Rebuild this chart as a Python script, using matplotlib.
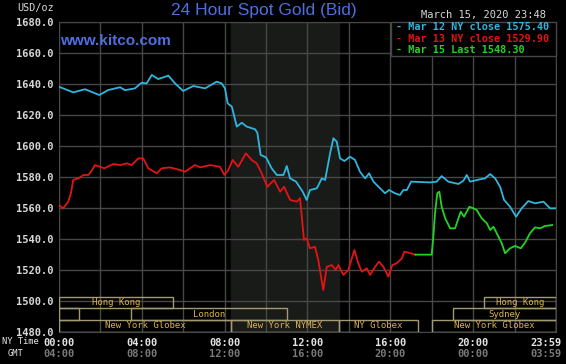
import matplotlib
matplotlib.use("Agg")
import matplotlib.pyplot as plt
from matplotlib.patches import Rectangle

# --- data (hours in NY time, USD/oz) ---
mar12_h = [0.0, 0.7, 1.27, 1.96, 2.39, 2.96, 3.2, 3.68, 4.0, 4.24, 4.49, 4.8, 5.29, 5.61,
           6.0, 6.49, 7.06, 7.62, 7.86, 8.02, 8.15, 8.35, 8.59, 8.83, 9.07, 9.47, 9.58,
           9.74, 10.0, 10.27, 10.52, 10.84, 11.0, 11.16, 11.45, 11.77, 11.96, 12.12, 12.45,
           12.69, 12.85, 13.09, 13.25, 13.41, 13.57, 13.78, 14.05, 14.29, 14.53, 14.78,
           14.97, 15.18, 15.5, 15.74, 15.93, 16.22, 16.46, 16.62, 16.79, 17.0, 17.91, 18.23,
           18.47, 18.79, 19.28, 19.52, 19.68, 19.84, 20.32, 20.56, 20.81, 21.05, 21.29,
           21.48, 21.77, 22.06, 22.33, 22.65, 22.98, 23.38, 23.7, 23.97]
mar12_v = [1638.3, 1634.6, 1636.6, 1632.9, 1636.1, 1637.9, 1636.0, 1637.2, 1640.8, 1640.4,
           1645.8, 1643.2, 1645.4, 1640.4, 1635.5, 1638.7, 1637.2, 1641.5, 1640.4, 1637.2,
           1627.5, 1625.4, 1612.5, 1615.0, 1612.5, 1610.8, 1608.6, 1594.2, 1592.7, 1585.6,
           1581.3, 1581.3, 1587.1, 1579.1, 1577.0, 1570.5, 1565.2, 1571.6, 1572.7, 1579.1,
           1578.1, 1595.3, 1605.0, 1602.8, 1592.0, 1590.3, 1593.1, 1591.0, 1583.4, 1579.1,
           1582.4, 1577.0, 1572.7, 1569.5, 1571.6, 1569.5, 1568.4, 1571.6, 1571.6, 1577.0,
           1576.5, 1577.0, 1580.6, 1577.0, 1575.5, 1577.6, 1581.3, 1577.0, 1578.5, 1579.1,
           1581.9, 1579.1, 1573.7, 1565.2, 1560.8, 1554.4, 1559.8, 1564.5, 1563.0, 1564.1,
           1559.8, 1559.8]

mar13_h = [0.0, 0.22, 0.46, 0.59, 0.7, 0.95, 1.19, 1.43, 1.56, 1.75, 1.99, 2.2, 2.63, 2.96,
           3.28, 3.52, 3.84, 4.08, 4.32, 4.73, 4.97, 5.37, 5.85, 6.09, 6.57, 6.82, 7.3, 7.78,
           7.99, 8.18, 8.39, 8.66, 9.03, 9.31, 9.55, 9.79, 10.06, 10.39, 10.68, 10.87, 11.16,
           11.48, 11.64, 11.83, 11.96, 12.12, 12.36, 12.52, 12.76, 12.93, 13.17, 13.36, 13.49,
           13.73, 13.97, 14.26, 14.45, 14.62, 14.86, 15.02, 15.26, 15.45, 15.66, 15.9, 16.09,
           16.3, 16.55, 16.67, 16.86, 17.2]
mar13_v = [1561.9, 1559.8, 1564.1, 1569.5, 1578.1, 1579.1, 1581.3, 1581.3, 1583.4, 1587.7,
           1586.6, 1585.6, 1588.4, 1587.7, 1588.8, 1587.7, 1592.0, 1592.0, 1585.6, 1582.4,
           1585.6, 1586.2, 1584.5, 1583.4, 1587.7, 1586.2, 1587.7, 1586.6, 1581.3, 1584.5,
           1591.0, 1586.6, 1595.3, 1591.0, 1588.8, 1582.4, 1573.7, 1578.1, 1570.5, 1573.7,
           1565.2, 1564.1, 1566.3, 1539.4, 1540.4, 1534.0, 1535.0, 1526.5, 1507.1, 1522.1,
           1523.2, 1520.0, 1523.2, 1516.8, 1520.0, 1532.9, 1524.3, 1518.9, 1521.1, 1516.8,
           1522.1, 1525.4, 1522.1, 1515.7, 1523.2, 1524.3, 1527.5, 1531.8, 1531.2, 1529.9]

mar15_h = [17.2, 17.99, 18.07, 18.15, 18.26, 18.36, 18.47, 18.64, 18.88, 19.12, 19.28, 19.39,
           19.55, 19.81, 20.0, 20.16, 20.4, 20.65, 20.81, 20.97, 21.21, 21.37, 21.53, 21.77,
           22.01, 22.29, 22.49, 22.73, 22.98, 23.22, 23.46, 23.8]
mar15_v = [1529.9, 1529.9, 1541.5, 1556.6, 1569.5, 1570.5, 1560.8, 1553.4, 1546.9, 1546.9,
           1553.4, 1557.6, 1554.4, 1560.8, 1559.8, 1558.7, 1553.4, 1550.1, 1545.8, 1547.9,
           1541.5, 1537.2, 1530.8, 1534.0, 1535.5, 1534.0, 1537.6, 1543.7, 1547.5, 1546.9,
           1548.4, 1549.0]

legend_lines = ["Mar 12 NY close 1575.40", "Mar 13 NY close 1529.90", "Mar 15 Last 1548.30"]

# sessions: (label, start hour, end hour, row) ; row 0 = top
sessions = [("Hong Kong", 0.0, 5.5, 0), ("Hong Kong", 20.5, 24.0, 0),
            ("", 0.0, 1.0, 1), ("London", 3.5, 11.0, 1), ("Sydney", 19.0, 24.0, 1),
            ("New York Globex", 0.0, 8.33, 2), ("New York NYMEX", 8.33, 13.5, 2),
            ("NY Globex", 13.5, 17.33, 2), ("New York Globex", 18.0, 24.0, 2)]

ny_ticks = [0, 4, 8, 12, 16, 20, 23.48]
ny_labels = ["00:00", "04:00", "08:00", "12:00", "16:00", "20:00", "23:59"]
gmt_labels = ["04:00", "08:00", "12:00", "16:00", "20:00", "00:00", "03:59"]

CYAN, RED, GREEN = "#2fb6de", "#e31414", "#22d422"
BLUE = "#4d6fe0"
GRID = "#474747"
MONO = "DejaVu Sans Mono"

fig = plt.figure(figsize=(5.66, 3.64), dpi=100, facecolor="black")
ax = fig.add_axes([58.7 / 566, 1 - 332 / 364, (556.3 - 58.7) / 566, (332 - 22) / 364])
ax.set_facecolor("black")
ax.set_xlim(0, 24)
ax.set_ylim(1480, 1680)

ax.axvspan(8.33, 13.5, color="#191b19", zorder=0)
for h in range(0, 25, 2):
    ax.axvline(h, color=GRID, lw=1, zorder=1)
for v in range(1480, 1681, 20):
    ax.axhline(v, color=GRID, lw=1, zorder=1)
for sp in ax.spines.values():
    sp.set_color(GRID)

ax.plot(mar12_h, mar12_v, color=CYAN, lw=1.3, zorder=3)
ax.plot(mar13_h, mar13_v, color=RED, lw=1.3, zorder=3)
ax.plot(mar15_h, mar15_v, color=GREEN, lw=1.3, zorder=3)

# session boxes
row_top = [1502.8, 1495.3, 1487.7]
row_h = 7.5
for lab, a, b, r in sessions:
    y0 = row_top[r] - row_h
    ax.add_patch(Rectangle((a, y0), b - a, row_h, fill=False, edgecolor="#a39a72",
                           lw=1, zorder=4))
    if lab:
        ax.text((a + b) / 2, y0 + row_h / 2, lab, ha="center", va="center", fontsize=6.5,
                family=MONO, color="#dcb34c", zorder=5)

ax.set_yticks(range(1480, 1681, 20))
ax.set_yticklabels([f"{v}.0" for v in range(1480, 1681, 20)], family=MONO,
                   fontsize=7.5, fontweight="bold", color="#d8d8d8")
ax.tick_params(axis="y", length=0, pad=4)
ax.set_xticks([])

for t, a, g in zip(ny_ticks, ny_labels, gmt_labels):
    ax.text(t, -0.018, a, transform=ax.get_xaxis_transform(), ha="center", va="top",
            family=MONO, fontsize=7.5, fontweight="bold", color="#e4e4e4", clip_on=False)
    ax.text(t, -0.056, g, transform=ax.get_xaxis_transform(), ha="center", va="top",
            family=MONO, fontsize=7.5, fontweight="bold", color="#7a7a7a", clip_on=False)
fig.text(1.5 / 566, 1 - 341.7 / 364, "NY Time", ha="left", va="center", family=MONO,
         fontsize=6.3, color="#e4e4e4")
fig.text(16 / 566, 1 - 353.3 / 364, "GMT", ha="center", va="center", family=MONO,
         fontsize=6.3, color="#e4e4e4")

fig.text(17 / 566, 1 - 8 / 364, "USD/oz", ha="left", va="center", family=MONO,
         fontsize=7.3, color="#d8d8d8")
fig.text(264 / 566, 1 - 11 / 364, "24 Hour Spot Gold (Bid)", ha="center", va="center",
         family="Liberation Sans", fontsize=12.5, color=BLUE)
fig.text(60 / 566, 1 - 41 / 364, "www.kitco.com", ha="left", va="center",
         family="Liberation Sans", fontsize=11, fontweight="bold", color=BLUE)
fig.text(546 / 566, 1 - 15 / 364, "March 15, 2020 23:48", ha="right", va="center",
         family=MONO, fontsize=7.5, color="#d8d8d8")

# legend box
fig.patches.append(Rectangle((391 / 566, 1 - 56 / 364), (556.3 - 391) / 566, 34 / 364,
                             transform=fig.transFigure, facecolor="black",
                             edgecolor=GRID, lw=1, zorder=10))
for i, (txt, c) in enumerate(zip(legend_lines, [CYAN, RED, GREEN])):
    fig.text(396 / 566, 1 - (27.3 + 11.4 * i) / 364, "- " + txt, ha="left", va="center",
             family=MONO, fontsize=7.3, fontweight="bold", color=c, zorder=11)

fig.savefig("out.png", dpi=100, facecolor="black")
